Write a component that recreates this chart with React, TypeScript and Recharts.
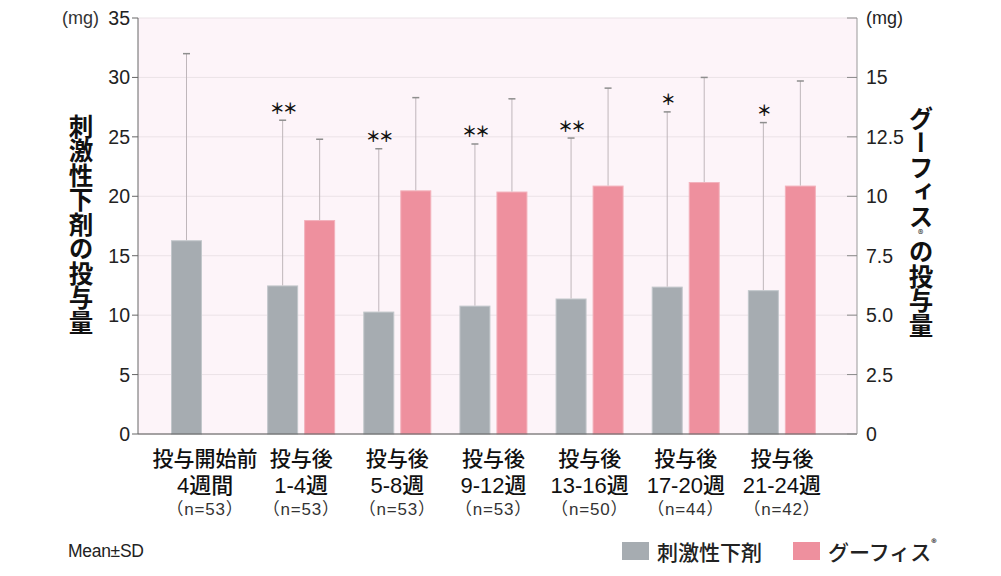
import { BarChart, Bar, XAxis, YAxis, CartesianGrid } from 'recharts';

// categories (x axis, three text lines)
const PERIODS = ['投与開始前', '投与後', '投与後', '投与後', '投与後', '投与後', '投与後'];
const WEEKS = ['4週間', '1-4週', '5-8週', '9-12週', '13-16週', '17-20週', '21-24週'];
const NS = ['（n=53）', '（n=53）', '（n=53）', '（n=53）', '（n=50）', '（n=44）', '（n=42）'];

// 刺激性下剤 (left axis, mg)
const STIM_MEAN = [16.3, 12.5, 10.3, 10.8, 11.4, 12.4, 12.1];
const STIM_SD = [15.7, 13.9, 13.7, 13.6, 13.5, 14.7, 14.1];
const STARS = ['', '**', '**', '**', '**', '*', '*'];

// グーフィス (right axis, mg)
const GU_MEAN = [null, 9.0, 10.25, 10.2, 10.45, 10.6, 10.45];
const GU_SD = [null, 3.4, 3.9, 3.9, 4.1, 4.4, 4.4];

const LEFT_TICKS = [0, 5, 10, 15, 20, 25, 30, 35];
const RIGHT_TICKS = [0, 2.5, 5, 7.5, 10, 12.5, 15, 17.5];
const RIGHT_LABELS = ['0', '2.5', '5.0', '7.5', '10', '12.5', '15', '(mg)'];

const GRAY = '#a6acb1';
const PINK = '#ee909e';
const NUM_FONT = '"Liberation Sans", Arial, sans-serif';
const JP_FONT = '"Noto Sans CJK JP", "Noto Sans", sans-serif';
const MIX_FONT = '"Liberation Sans", "Noto Sans CJK JP", sans-serif';

const data = PERIODS.map((p, i) => ({
  key: String(i),
  period: p,
  week: WEEKS[i],
  n: NS[i],
  stim: STIM_MEAN[i],
  stimSd: STIM_SD[i],
  gu: GU_MEAN[i],
  guSd: GU_SD[i],
  star: STARS[i],
}));

function barShape(meanKey: string, sdKey: string, fill: string, edge: string, withStar: boolean) {
  return (props: any) => {
    const { x, y, width, height, payload } = props;
    const mean = payload[meanKey];
    if (mean == null || !height) return <g />;
    const sd = payload[sdKey];
    const cx = x + width / 2;
    // whisker top from the bar's own px-per-unit
    const top = y - (sd * height) / mean;
    return (
      <g>
        <rect x={x + 0.5} y={y + 0.5} width={width - 1} height={height - 0.5} fill={fill} stroke={edge} strokeWidth={1} />
        <line x1={cx} x2={cx} y1={y} y2={top} stroke="#bfb6bb" strokeWidth={1} />
        <line x1={cx - 3.5} x2={cx + 3.5} y1={top} y2={top} stroke="#8e8e8e" strokeWidth={1.5} />
        {withStar && payload.star ? (
          <text
            x={cx}
            y={top - 13}
            textAnchor="middle"
            dominantBaseline="central"
            fontFamily={JP_FONT}
            fontWeight={700}
            fontSize={15}
            letterSpacing={-2}
            fill="#111"
          >
            {payload.star.replace(/\*/g, '＊')}
          </text>
        ) : null}
      </g>
    );
  };
}

const LeftTick = (p: any) => {
  const { x, y, payload } = p;
  return (
    <g>
      {payload.value === 35 ? (
        <text x={x - 31} y={y} dy="0.36em" textAnchor="end" fontFamily={NUM_FONT} fontSize={18} fill="#333">
          (mg)
        </text>
      ) : null}
      <text x={x} y={y} dy="0.36em" textAnchor="end" fontFamily={NUM_FONT} fontSize={19.5} fill="#222">
        {payload.value}
      </text>
    </g>
  );
};

const RightTick = (p: any) => {
  const { x, y, payload } = p;
  const i = RIGHT_TICKS.indexOf(payload.value);
  const axisX = x - 9;
  return (
    <g>
      <line x1={axisX - 10} x2={axisX} y1={y} y2={y} stroke="#8a8a8a" strokeWidth={1} />
      <text x={x} y={y} dy="0.36em" textAnchor="start" fontFamily={NUM_FONT} fontSize={i === 7 ? 18 : 19.5} fill="#222">
        {RIGHT_LABELS[i]}
      </text>
    </g>
  );
};

const XTick = (p: any) => {
  const { x, y, payload } = p;
  const d = data[Number(payload.value)];
  return (
    <g>
      <text x={x} y={y + 23} textAnchor="middle" dominantBaseline="central" fontFamily={JP_FONT} fontWeight={500} fontSize={21} fill="#111">
        {d.period}
      </text>
      <text x={x} y={y + 51} textAnchor="middle" dominantBaseline="central" fontFamily={MIX_FONT} fontWeight={500} fontSize={22} fill="#111">
        {d.week}
      </text>
      <text x={x} y={y + 75} textAnchor="middle" dominantBaseline="central" fontFamily={MIX_FONT} fontSize={17} letterSpacing={0.8} fill="#333">
        {d.n}
      </text>
    </g>
  );
};

const vTitle: any = {
  position: 'absolute',
  writingMode: 'vertical-rl',
  fontFamily: JP_FONT,
  fontWeight: 700,
  fontSize: 24.5,
  lineHeight: 1,
  color: '#111',
  whiteSpace: 'nowrap',
};

export default function App() {
  return (
    <div style={{ position: 'absolute', left: 0, top: 0, width: 1001, height: 576, background: '#fff' }}>
      <BarChart
        width={1001}
        height={576}
        data={data}
        margin={{ top: 18, right: 89, left: 93, bottom: 42 }}
        barSize={31}
        barGap={6}
      >
        <CartesianGrid yAxisId="l" vertical={false} stroke="#ebe2e7" fill="#fdf4f9" />
        <XAxis
          dataKey="key"
          height={100}
          padding={{ left: 19, right: 27 }}
          tick={<XTick />}
          tickLine={false}
          tickSize={0}
          tickMargin={0}
          axisLine={{ stroke: '#555' }}
          interval={0}
        />
        <YAxis
          yAxisId="l"
          orientation="left"
          width={45}
          domain={[0, 35]}
          ticks={LEFT_TICKS}
          tick={<LeftTick />}
          tickSize={6}
          tickMargin={2}
          tickLine={{ stroke: '#666' }}
          axisLine={{ stroke: '#666' }}
          interval={0}
        />
        <YAxis
          yAxisId="r"
          orientation="right"
          width={55}
          domain={[0, 17.5]}
          ticks={RIGHT_TICKS}
          tick={<RightTick />}
          tickSize={5}
          tickMargin={4}
          tickLine={false}
          axisLine={{ stroke: '#999' }}
          interval={0}
        />
        <Bar yAxisId="l" dataKey="stim" fill={GRAY} isAnimationActive={false} shape={barShape('stim', 'stimSd', GRAY, '#c2c7cb', true)} />
        <Bar yAxisId="r" dataKey="gu" fill={PINK} isAnimationActive={false} shape={barShape('gu', 'guSd', PINK, '#f3b2bc', false)} />
      </BarChart>

      <div style={{ ...vTitle, left: 68, top: 114 }}>刺激性下剤の投与量</div>
      <div style={{ ...vTitle, left: 908, top: 106 }}>
        グーフィス<span style={{ fontSize: 11, fontWeight: 400 }}>®</span>の投与量
      </div>

      <div style={{ position: 'absolute', left: 68, top: 541, fontFamily: NUM_FONT, fontSize: 17.5, color: '#222', letterSpacing: -0.3 }}>
        Mean±SD
      </div>

      <div style={{ position: 'absolute', left: 622, top: 536, display: 'flex', alignItems: 'center', fontFamily: JP_FONT, fontSize: 21, fontWeight: 500, color: '#222' }}>
        <span style={{ display: 'inline-block', width: 27, height: 18, background: GRAY, marginRight: 8 }} />
        <span>刺激性下剤</span>
        <span style={{ display: 'inline-block', width: 27, height: 18, background: PINK, marginLeft: 31, marginRight: 8 }} />
        <span>
          グーフィス<sup style={{ fontSize: 11, verticalAlign: 'top', position: 'relative', top: -2 }}>®</sup>
        </span>
      </div>
    </div>
  );
}
